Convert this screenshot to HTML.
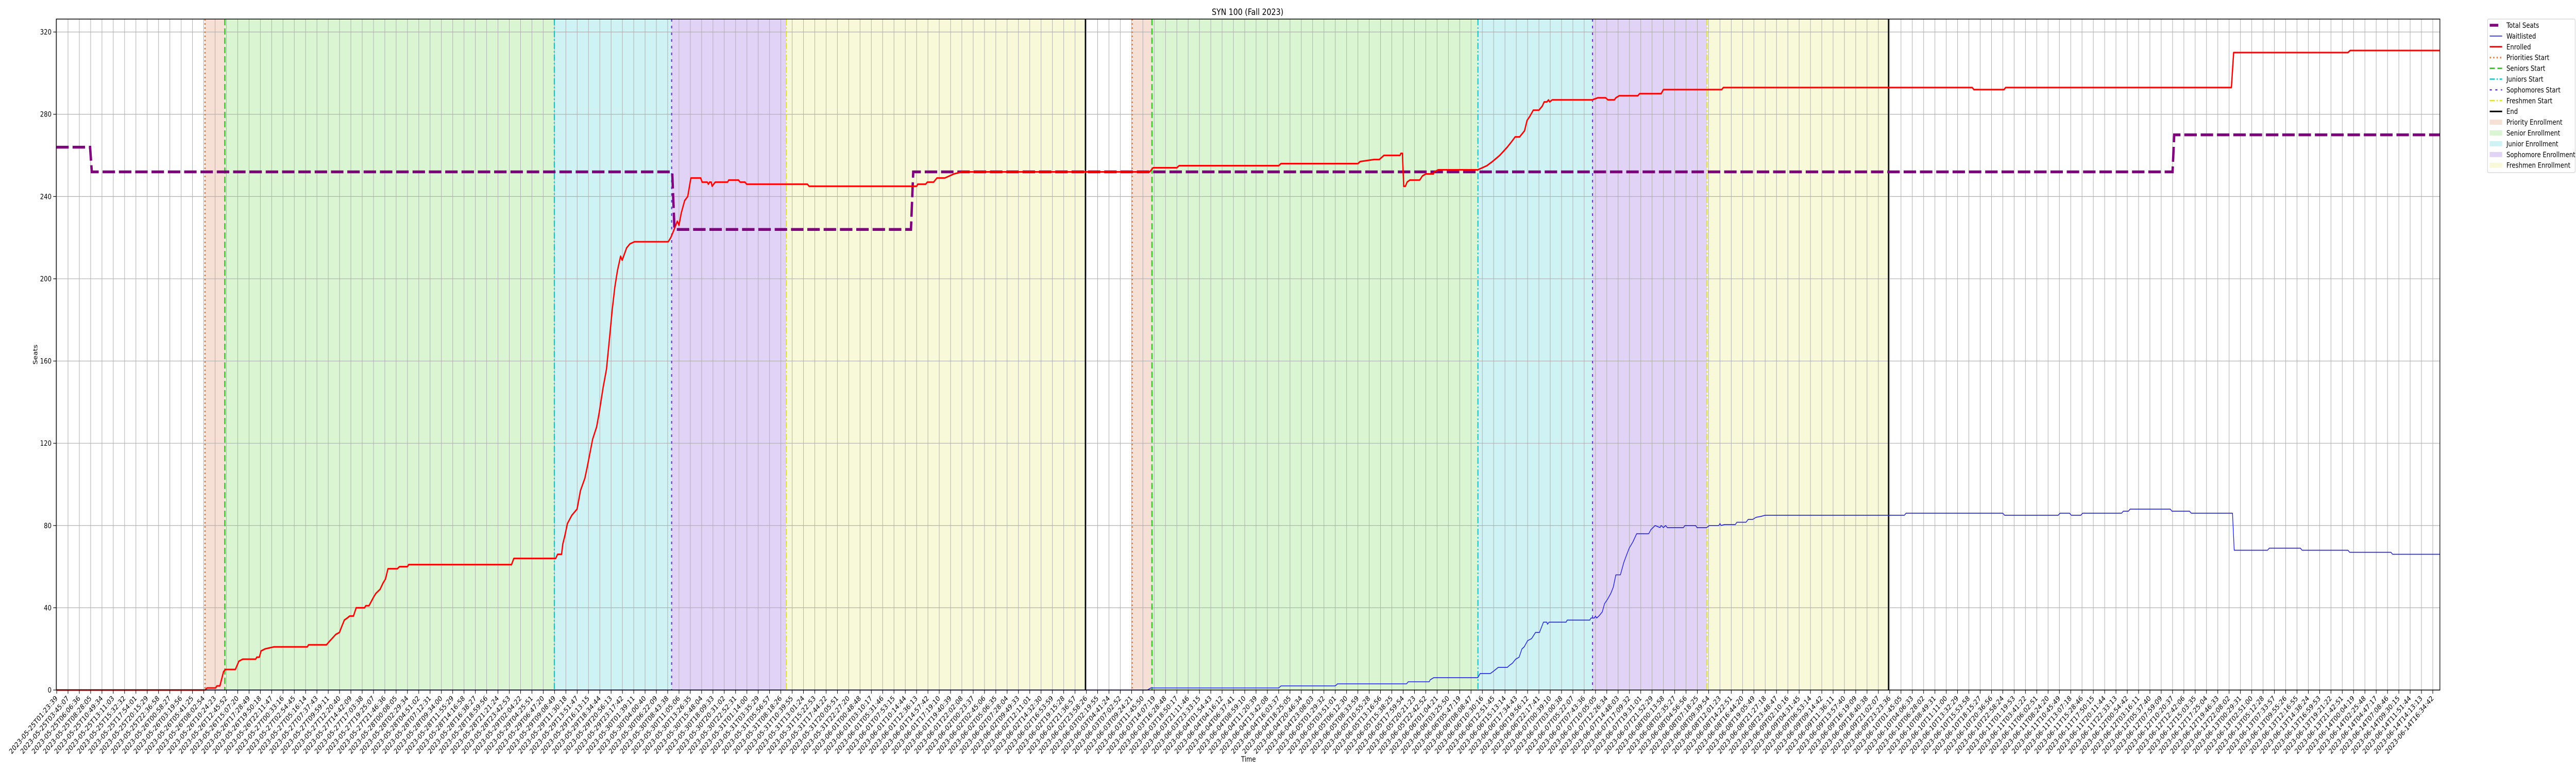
<!DOCTYPE html>
<html><head><meta charset="utf-8"><title>SYN 100 (Fall 2023)</title>
<style>html,body{margin:0;padding:0;background:#fff;width:100%;height:100%;overflow:hidden;}svg{display:block;width:100vw;height:100vh;font-family:"DejaVu Sans","Liberation Sans",sans-serif;}</style>
</head><body>
<svg id="chart" viewBox="0 0 6000 1500" preserveAspectRatio="none" xmlns="http://www.w3.org/2000/svg">
<rect width="6000" height="1500" fill="#fff"/>
<g id="spans"></g><g id="grid"></g><g id="vlines"></g><g id="series"></g>
<rect x="131" y="37" width="5552" height="1302" fill="none" stroke="#000" stroke-width="1.5"/>
<g id="yticks"></g><g id="xticks"></g>
<text x="2906" y="29" font-size="17" text-anchor="middle">SYN 100 (Fall 2023)</text>
<text x="0" y="0" font-size="14" text-anchor="middle" transform="translate(87,688) rotate(-90)">Seats</text>
<text x="2908" y="1478" font-size="14" text-anchor="middle">Time</text>
<g id="legend"></g>
</svg>
<script>
// ---- data (x in tick-index units, y in seats) ----
const tickStart = "2023-05-25T01:23:39";
const tickEnd = "2023-06-14T16:34:42";
const tickCount = 211;
const yTicks = [0, 40, 80, 120, 160, 200, 240, 280, 320];
const eventNames = ["Priorities Start","Seniors Start","Juniors Start","Sophomores Start","Freshmen Start","End"];
const eventsRound1 = [13.11, 14.86, 43.98, 54.35, 64.48, 90.92];
const eventsRound2 = [95.05, 96.80, 125.61, 135.74, 145.86, 161.9];
const totalX = [-0.04, 2.95, 3.1, 54.4, 54.6, 75.5, 75.7, 187.0, 187.15, 210.63];
const totalY = [264, 264, 252, 252, 224, 224, 252, 252, 270, 270];
const enrolledX = [0,13.11,13.29,14.05,14.16,14.42,14.75,14.92,15.79,16.10,16.44,17.58,17.69,17.91,18.06,18.41,19.21,22.15,22.26,23.85,24.0,24.16,24.66,24.99,25.2,25.42,25.68,25.9,26.23,26.47,27.21,27.32,27.6,27.99,28.21,28.58,28.84,29.06,29.28,30.11,30.3,31,31.1,40.2,40.4,44.1,44.27,44.62,44.73,44.91,45.14,45.53,45.99,46.29,46.68,46.91,47.37,47.72,47.95,48.29,48.59,48.82,49.1,49.33,49.56,49.84,49.98,50.37,50.67,51.06,54.05,54.27,54.5,54.85,55.0,55.2,55.5,55.77,56.05,56.92,57.04,57.5,57.6,57.7,57.85,57.93,58.2,59.29,59.4,60.26,60.4,60.83,60.98,66.35,66.5,76.0,76.1,76.8,76.95,77.5,77.8,78.5,79.3,80,96.6,96.9,99,99.2,108,108.2,115,115.2,116.43,116.9,117.1,117.3,118.72,118.8,118.94,119.05,119.2,119.35,119.59,120.46,120.7,121.01,121.67,121.77,122.1,125.58,126.0,126.4,126.89,127.54,128.2,128.63,128.9,129.3,129.73,129.95,130.2,130.5,131.0,131.3,131.46,131.7,131.85,131.95,132.17,135.7,136.2,136.9,137.1,137.67,137.8,138.1,139.74,139.9,141.8,142.0,147.15,147.3,169.3,169.45,172.1,172.25,192.2,192.4,202.5,202.7,210.63];
const enrolledY = [0,0,1,1,2,2,9,10,10,14,15,15,16,16,19,20,21,21,22,22,23,24,27,28,31,34,35,36,36,40,40,41,41,45,47,49,52,54,59,59,60,60,61,61,64,64,66,66,71,75,81,85,88,97,103,109,122,128,135,147,156,169,185,196,204,211,209,215,217,218,218,220,223,228,226,232,238,240,249,249,247,247,246,247,247,245,247,247,248,248,247,247,246,246,245,245,246,246,247,247,249,249,251,252,252,254,254,255,255,256,256,257,258,258,259,260,260,261,261,245,245,247,248,248,250,251,251,252,253,253,254,255,257,260,264,267,269,269,272,277,279,282,282,284,286,286,287,286,287,287,288,288,287,287,288,289,289,290,290,292,292,293,293,292,292,293,293,310,310,311,311];
const waitX = [0,96.4,96.7,108,108.2,113,113.2,119.3,119.45,121.3,121.4,121.7,125.6,125.8,126.7,126.95,127.4,128.2,128.4,128.65,128.95,129.25,129.5,129.7,130.0,130.35,130.7,131.05,131.4,131.7,131.75,131.9,133.4,133.5,135.5,135.6,135.9,136.0,136.1,136.3,136.6,136.8,137.05,137.35,137.57,137.8,138.2,138.5,138.7,138.98,139.3,139.64,140.7,140.9,141.27,141.7,141.8,142.0,142.2,142.35,143.77,143.9,144.85,144.97,145.84,146.05,146.9,147.0,147.1,147.4,148.36,148.5,149.3,149.5,149.9,150.2,150.6,151,163.3,163.45,172.0,172.15,176.9,177.05,177.9,178.05,178.9,179.05,182.5,182.65,183.1,183.25,186.8,186.95,188.5,188.65,192.3,192.45,195.4,195.55,198.3,198.45,202.5,202.65,206.3,206.45,210.63];
const waitY = [0,0,1,1,2,2,3,3,4,4,5,6,6,8,8,9,11,11,12,13,15,16,20,21,24,25,28,28,33,33,32,33,33,34,34,35,35,36,35,36,38,42,44,47,50,56,56,62,65,69,72,76,76,78,80,79,80,79,80,79,79,80,80,79,79,80,80,81,80,80.5,80.5,81.6,81.6,83,83,84,84.4,85,85,86,86,85,85,86,86,85,85,86,86,87,87,88,88,87,87,86,86,68,68,69,69,68,68,67,67,66,66];

// ---- axes ----
const X0 = 131, X1 = 5683, Y0 = 37, Y1 = 1339;
const xMin = -0.04, xMax = 210.63, yMin = 0, yMax = 326.3;
function sx(v){ return X0 + (v - xMin) / (xMax - xMin) * (X1 - X0); }
function sy(v){ return Y1 - (v - yMin) / (yMax - yMin) * (Y1 - Y0); }
const NS = "http://www.w3.org/2000/svg";
function mk(tag, attrs, parent){ const e = document.createElementNS(NS, tag); for (const k in attrs) e.setAttribute(k, attrs[k]); parent.appendChild(e); return e; }
const $ = id => document.getElementById(id);

// spans
const spanColors = ["#f6e0d6", "#d9f5d1", "#cff2f4", "#e1d3f5", "#f8f9d8"];
const spanNames = ["priority", "senior", "junior", "sophomore", "freshmen"];
[eventsRound1, eventsRound2].forEach((ev, r) => {
  for (let i = 0; i < 5; i++) {
    const a = sx(ev[i]), b = sx(ev[i + 1]);
    const el = mk("rect", {x: a, y: Y0, width: b - a, height: Y1 - Y0, fill: spanColors[i]}, $("spans"));
    
    
  }
});

// grid + ticks
for (let i = 0; i < tickCount; i++) {
  const x = sx(i);
  const g = mk("line", {x1: x, x2: x, y1: Y0, y2: Y1, stroke: "#b0b0b0", "stroke-width": 1.2}, $("grid"));
  
  
}
yTicks.forEach(v => {
  const y = sy(v);
  const g = mk("line", {x1: X0, x2: X1, y1: y, y2: y, stroke: "#b0b0b0", "stroke-width": 1.2}, $("grid"));
  
  
  const t = mk("line", {x1: X0 - 7, x2: X0, y1: y, y2: y, stroke: "#000", "stroke-width": 1.2}, $("yticks"));
  
  
  const l = mk("text", {x: X0 - 11, y: y + 5, "font-size": 14, "text-anchor": "end"}, $("yticks"));
  l.textContent = v;
  
  
});
const t0 = Date.parse(tickStart + "Z"), t1 = Date.parse(tickEnd + "Z");
function fmt(ms){ return new Date(ms).toISOString().slice(0, 19); }
for (let i = 0; i < tickCount; i++) {
  const x = sx(i);
  const t = mk("line", {x1: x, x2: x, y1: Y1, y2: Y1 + 7, stroke: "#000", "stroke-width": 1.2}, $("xticks"));
  
  
  const l = mk("text", {x: 0, y: 0, "font-size": 14, "text-anchor": "end", transform: "translate(" + (x + 3) + "," + (Y1 + 17) + ") rotate(-45)"}, $("xticks"));
  l.textContent = fmt(t0 + (t1 - t0) * i / (tickCount - 1));
  
  
}

// event lines
const evStyles = [
  {c: "#e8773a", w: 3, d: "3,5"},
  {c: "#33cc22", w: 3, d: "12,6"},
  {c: "#14c4cc", w: 2.5, d: "12,4,3,4"},
  {c: "#6633dd", w: 2.5, d: "5,8"},
  {c: "#e0e030", w: 2.5, d: "12,4,3,4"},
  {c: "#000000", w: 3, d: ""}
];
[eventsRound1, eventsRound2].forEach((ev, r) => {
  ev.forEach((v, i) => {
    const x = sx(v);
    const s = evStyles[i];
    const el = mk("line", {x1: x, x2: x, y1: Y0, y2: Y1, stroke: s.c, "stroke-width": s.w, "stroke-dasharray": s.d}, $("vlines"));
    
    
  });
});

// series
function pts(xs, ys){ return xs.map((x, i) => sx(x).toFixed(1) + "," + sy(ys[i]).toFixed(1)).join(" "); }
const tot = mk("polyline", {points: pts(totalX, totalY), fill: "none", stroke: "#800080", "stroke-width": 5.5, "stroke-dasharray": "29,9"}, $("series"));


const wl = mk("polyline", {points: pts(waitX, waitY), fill: "none", stroke: "#1a1aff", "stroke-width": 1.6, "stroke-linejoin": "round"}, $("series"));


const en = mk("polyline", {points: pts(enrolledX, enrolledY), fill: "none", stroke: "#ff0000", "stroke-width": 3, "stroke-linejoin": "round"}, $("series"));



// legend
const lg = $("legend");
const box = mk("rect", {x: 5794, y: 37, width: 204, height: 298, rx: 3, fill: "#fff", "fill-opacity": 0.8, stroke: "#d0d0d0", "stroke-width": 1.2}, lg);


const legendLabels = ["Total Seats","Waitlisted","Enrolled","Priorities Start","Seniors Start","Juniors Start","Sophomores Start","Freshmen Start","End","Priority Enrollment","Senior Enrollment","Junior Enrollment","Sophomore Enrollment","Freshmen Enrollment"];
legendLabels.forEach((lab, i) => {
  const y = 49 + i * 20.9;
  let h;
  if (i === 0) h = mk("line", {x1: 5799, x2: 5819, y1: y, y2: y, stroke: "#800080", "stroke-width": 5.5}, lg);
  else if (i === 1) h = mk("line", {x1: 5799, x2: 5828, y1: y, y2: y, stroke: "#1a1aff", "stroke-width": 1.6}, lg);
  else if (i === 2) h = mk("line", {x1: 5799, x2: 5828, y1: y, y2: y, stroke: "#ff0000", "stroke-width": 3}, lg);
  else if (i < 9) { const s = evStyles[i - 3]; h = mk("line", {x1: 5799, x2: 5828, y1: y, y2: y, stroke: s.c, "stroke-width": s.w, "stroke-dasharray": s.d}, lg); }
  else h = mk("rect", {x: 5799, y: y - 5, width: 29, height: 10, fill: spanColors[i - 9]}, lg);
  
  
  const t = mk("text", {x: 5838, y: y + 5, "font-size": 14}, lg);
  t.textContent = lab;
  
  
});
</script>
</body></html>
